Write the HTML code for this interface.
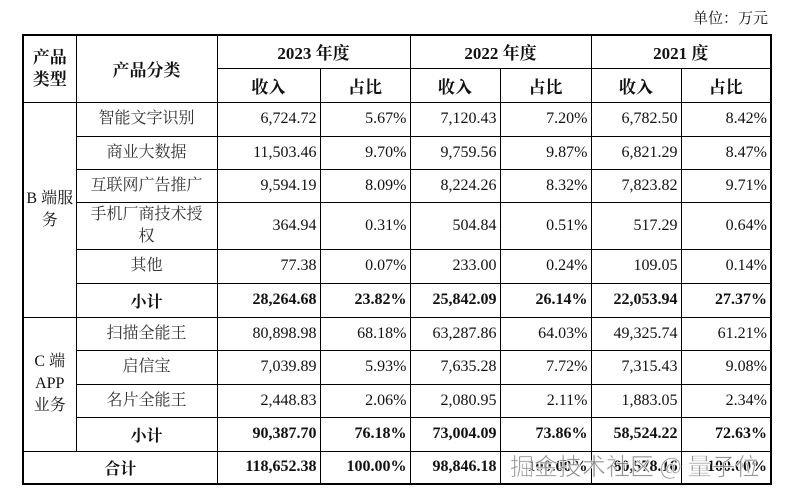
<!DOCTYPE html>
<html><head><meta charset="utf-8"><style>
body{margin:0;width:790px;height:490px;background:#fff;position:relative;overflow:hidden;font-family:"Liberation Serif","Noto Serif CJK SC",serif;color:#111}
.unit{position:absolute;right:22px;top:7px;font-size:15px}
table{position:absolute;left:22px;top:34px;border-collapse:collapse;table-layout:fixed;font-size:16px;border:2px solid #000}
td{border:1px solid #000;padding:0 3px;white-space:nowrap;overflow:visible}
td.n{text-align:right}
td.c{text-align:center;color:#333;white-space:normal;line-height:22px}
.b td{font-weight:bold}
.h{font-weight:bold;text-align:center;font-size:17px}
.wm{position:absolute;left:510px;top:447px;font-family:"Noto Sans CJK SC",sans-serif;font-size:24px;color:rgba(110,110,110,.9);-webkit-text-stroke:1px rgba(255,255,255,.8)}
</style></head><body>
<div class="unit">单位：万元</div>
<table>
<colgroup><col style="width:53px"><col style="width:141px"><col style="width:103px"><col style="width:90px"><col style="width:90px"><col style="width:91px"><col style="width:90px"><col style="width:90px"></colgroup>
<tr style="height:33px"><td rowspan="2" class="h" style="line-height:22px;white-space:normal;padding:0 4px">产品类型</td><td rowspan="2" class="h">产品分类</td><td colspan="2" class="h">2023 年度</td><td colspan="2" class="h">2022 年度</td><td colspan="2" class="h">2021 度</td></tr>
<tr style="height:34px"><td class="h">收入</td><td class="h">占比</td><td class="h">收入</td><td class="h">占比</td><td class="h">收入</td><td class="h">占比</td></tr>
<tr style="height:34px"><td rowspan="6" style="text-align:center;white-space:normal;line-height:22px;padding:0 2px">B 端服务</td><td class="c">智能文字识别</td><td class="n">6,724.72</td><td class="n">5.67%</td><td class="n">7,120.43</td><td class="n">7.20%</td><td class="n">6,782.50</td><td class="n">8.42%</td></tr>
<tr style="height:33px"><td class="c">商业大数据</td><td class="n">11,503.46</td><td class="n">9.70%</td><td class="n">9,759.56</td><td class="n">9.87%</td><td class="n">6,821.29</td><td class="n">8.47%</td></tr>
<tr style="height:33px"><td class="c">互联网广告推广</td><td class="n">9,594.19</td><td class="n">8.09%</td><td class="n">8,224.26</td><td class="n">8.32%</td><td class="n">7,823.82</td><td class="n">9.71%</td></tr>
<tr style="height:47px"><td class="c">手机厂商技术授<br>权</td><td class="n">364.94</td><td class="n">0.31%</td><td class="n">504.84</td><td class="n">0.51%</td><td class="n">517.29</td><td class="n">0.64%</td></tr>
<tr style="height:34px"><td class="c">其他</td><td class="n">77.38</td><td class="n">0.07%</td><td class="n">233.00</td><td class="n">0.24%</td><td class="n">109.05</td><td class="n">0.14%</td></tr>
<tr style="height:34px" class="b"><td style="text-align:center">小计</td><td class="n">28,264.68</td><td class="n">23.82%</td><td class="n">25,842.09</td><td class="n">26.14%</td><td class="n">22,053.94</td><td class="n">27.37%</td></tr>
<tr style="height:33px"><td rowspan="4" style="text-align:center;white-space:normal;line-height:22px;padding:0 2px">C 端 APP 业务</td><td class="c">扫描全能王</td><td class="n">80,898.98</td><td class="n">68.18%</td><td class="n">63,287.86</td><td class="n">64.03%</td><td class="n">49,325.74</td><td class="n">61.21%</td></tr>
<tr style="height:34px"><td class="c">启信宝</td><td class="n">7,039.89</td><td class="n">5.93%</td><td class="n">7,635.28</td><td class="n">7.72%</td><td class="n">7,315.43</td><td class="n">9.08%</td></tr>
<tr style="height:33px"><td class="c">名片全能王</td><td class="n">2,448.83</td><td class="n">2.06%</td><td class="n">2,080.95</td><td class="n">2.11%</td><td class="n">1,883.05</td><td class="n">2.34%</td></tr>
<tr style="height:34px" class="b"><td style="text-align:center">小计</td><td class="n">90,387.70</td><td class="n">76.18%</td><td class="n">73,004.09</td><td class="n">73.86%</td><td class="n">58,524.22</td><td class="n">72.63%</td></tr>
<tr style="height:33px" class="b"><td colspan="2" style="text-align:center">合计</td><td class="n">118,652.38</td><td class="n">100.00%</td><td class="n">98,846.18</td><td class="n">100.00%</td><td class="n">80,578.16</td><td class="n">100.00%</td></tr>
</table>
<div class="wm">掘金技术社区 @ 量子位</div>
</body></html>
